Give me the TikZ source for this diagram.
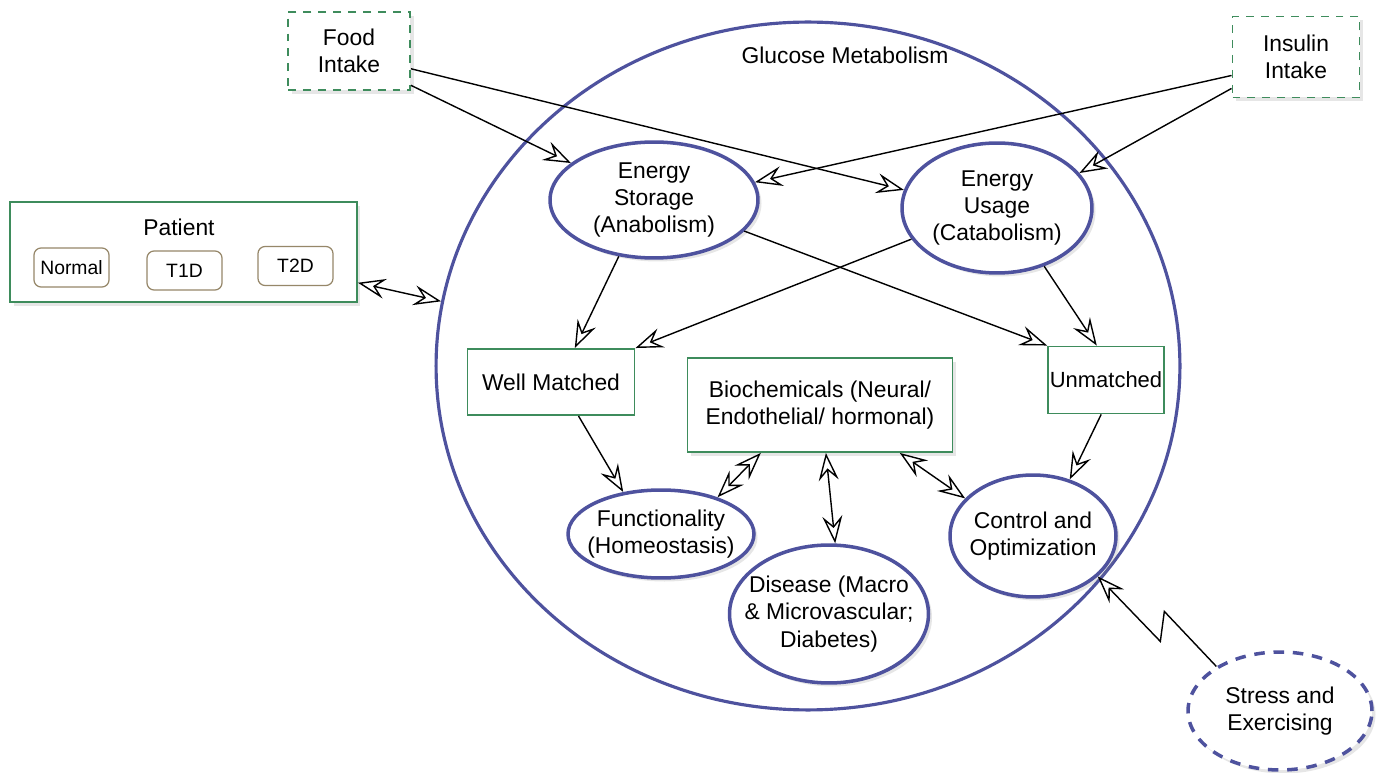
\documentclass[tikz,border=0pt]{standalone}
\usepackage{fontspec}
\setmainfont{Liberation Sans}
\usetikzlibrary{shapes.geometric,arrows.meta,shadows}

\definecolor{boxgreen}{RGB}{62,140,92}
\definecolor{ellblue}{RGB}{78,82,158}
\definecolor{subbrown}{RGB}{150,135,105}

\tikzset{
  every node/.style={font=\fontsize{13}{15.5}\selectfont, align=center},
  shadowed/.style={drop shadow={shadow xshift=2pt,shadow yshift=-2pt,opacity=0.2}},
  greenbox/.style={rectangle, draw=boxgreen, line width=1.1pt, fill=white, inner sep=2pt},
  intakebox/.style={greenbox, dash pattern=on 4.5pt off 4pt, shadowed},
  bubble/.style={ellipse, draw=ellblue, line width=2pt, fill=white, inner sep=-8pt, shadowed},
  subbox/.style={rectangle, rounded corners=4pt, draw=subbrown, line width=0.7pt,
    font=\fontsize{11}{13}\selectfont, minimum width=1.5cm, minimum height=0.78cm},
  >={Stealth[open,length=5.5mm,width=4mm,inset=2mm]},
  flow/.style={->, line width=0.8pt},
  twoway/.style={<->, line width=0.8pt}
}

\begin{document}
\begin{tikzpicture}[x=0.02cm, y=-0.02cm]
  \useasboundingbox (0,0) rectangle (1380,773);

  % Glucose metabolism
  \node[ellipse, draw=ellblue, line width=1.8pt, minimum width=14.88cm,
    minimum height=13.76cm, inner sep=0pt] (glucose) at (808,366) {};
  \node (glucoselabel) at (845,55) {Glucose Metabolism};

  % Intakes
  \node[intakebox, minimum width=2.44cm, minimum height=1.56cm] (food) at (349,51) {Food\\Intake};
  \node[intakebox, minimum width=2.54cm, minimum height=1.62cm] (insulin) at (1296,57) {Insulin\\Intake};

  % Patient
  \node[greenbox, shadowed, minimum width=6.94cm, minimum height=2cm] (patient) at (183.5,252) {};
  \node (patientlabel) at (179,227) {Patient};
  \foreach \t/\x/\y in {Normal/71.5/267.5, T1D/184.5/270.5, T2D/295.5/266}
  {
    \node[subbox] (p-\t) at (\x,\y) {\t};
  }

  % Energy
  \node[bubble, minimum width=4.16cm, minimum height=2.32cm] (storage) at (654,200) {Energy\\Storage\\(Anabolism)};
  \node[bubble, minimum width=3.8cm, minimum height=2.6cm] (usage) at (997,208) {Energy\\Usage\\(Catabolism)};

  % Matching
  \node[greenbox, minimum width=3.34cm, minimum height=1.32cm] (wellm) at (551,382) {Well Matched};
  \node[greenbox, minimum width=2.22cm, minimum height=1.34cm, inner xsep=1pt,
    font=\fontsize{12.5}{15}\selectfont] (unm) at (1106,380) {Unmatched};
  \node[greenbox, shadowed, minimum width=5.3cm, minimum height=1.88cm] (biochem) at (820,405)
    {Biochemicals (Neural/\\Endothelial/ hormonal)};

  % Outcomes
  \node[bubble, minimum width=3.72cm, minimum height=1.76cm] (func) at (661,534) {Functionality\\(Homeostasis)};
  \node[bubble, minimum width=3.56cm, minimum height=2.76cm] (disease) at (829,614)
    {Disease (Macro\\\& Microvascular;\\Diabetes)};
  \node[bubble, minimum width=3.32cm, minimum height=2.44cm] (control) at (1033,536) {Control and\\Optimization};
  \node[bubble, dash pattern=on 6pt off 5pt, minimum width=3.68cm, minimum height=2.36cm] (stress) at (1280,711)
    {Stress and\\Exercising};

  % Connectors
  \draw[flow] (food.-16) -- (usage.169);
  \draw[flow] (food.-29) -- (storage.156);
  \draw[flow] (insulin.196) -- (storage.10);
  \draw[flow] (insulin.206) -- (usage.23);
  \draw[twoway] (patient.-10) -- (glucose.170);

  \draw[flow] (storage.238) -- (wellm.55);
  \draw[flow] (usage.200) -- (wellm.north east);
  \draw[flow] (storage.-19) -- (unm.north west);
  \draw[flow] (usage.-51) -- (unm.105);

  \draw[flow] (wellm.-51) -- (func.132);
  \draw[flow] (unm.-98) -- (control.57);
  \draw[twoway] (biochem.219) -- (func.33);
  \draw[twoway] (biochem.-83) -- (disease.85);
  \draw[twoway] (biochem.-31) -- (control.151);

  \draw[flow] (stress.145) -- ++(-52,-55) -- ++(-4,30) -- (control.-32);
\end{tikzpicture}
\end{document}
